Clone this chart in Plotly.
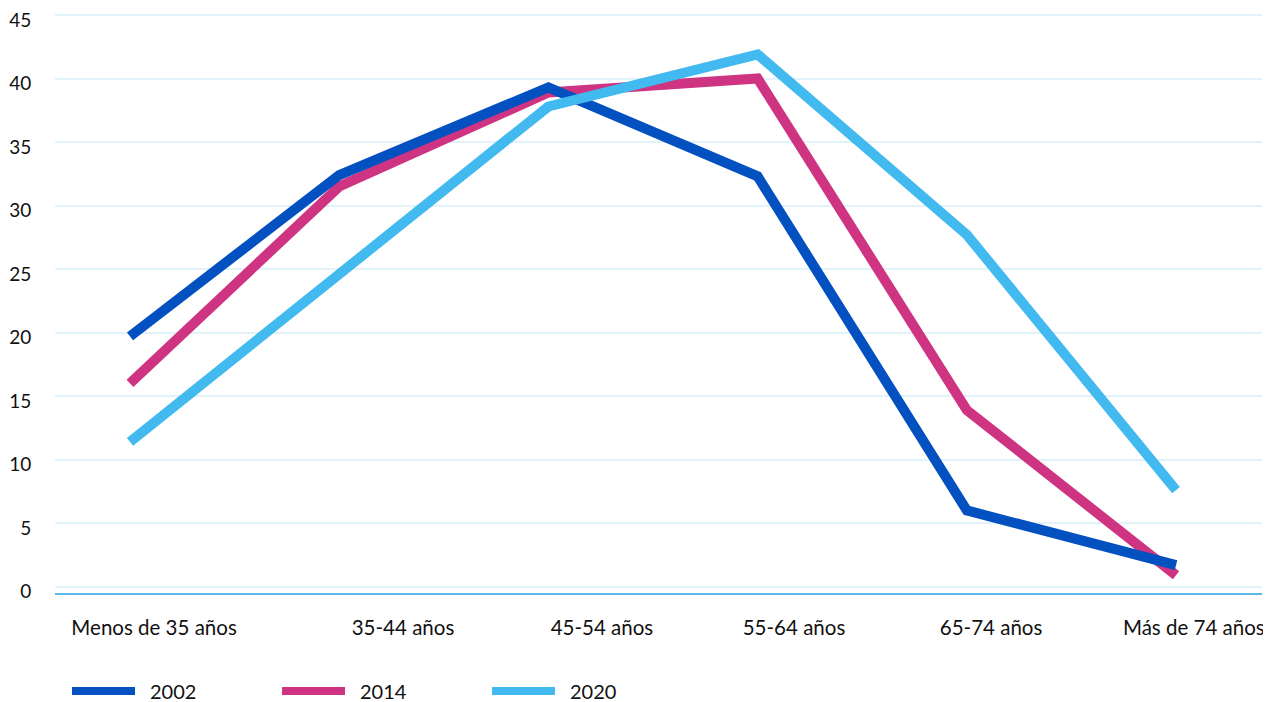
import plotly.graph_objects as go

categories = ["Menos de 35 años", "35-44 años", "45-54 años", "55-64 años", "65-74 años", "Más de 74 años"]
y2002 = [19.7, 32.4, 39.3, 32.3, 6.0, 1.7]
y2014 = [16.0, 31.5, 38.9, 40.0, 13.9, 0.9]
y2020 = [11.4, 24.5, 37.8, 41.9, 27.7, 7.6]
# where the category labels sit, relative to the point index (labels are shifted right in the original)
label_pos = [0.115, 1.305, 2.256, 3.174, 4.116, 5.085]

colors = {"2002": "#0350c0", "2014": "#cf3482", "2020": "#42baf0"}
series = {"2002": y2002, "2014": y2014, "2020": y2020}

# page body has an 8px margin, so the figure is 8px smaller and everything shifted
off = 8
W, H = 1271 - off, 702 - off
ml, mr, mt, mb = 55 - off, 9, 14 - off, 109
font = "Lato"

fig = go.Figure()
xs = list(range(len(categories)))
for name in ["2014", "2002", "2020"]:  # draw order as in original
    fig.add_trace(go.Scatter(x=xs, y=series[name], mode="lines", name=name,
                             line=dict(color=colors[name], width=10),
                             showlegend=False))

fig.update_xaxes(range=[-0.3585, 5.411], tickvals=label_pos, ticktext=categories,
                 showgrid=False, zeroline=False, showline=True, linecolor="#5cb8e6", linewidth=2,
                 ticks="outside", ticklen=0, ticklabelstandoff=15, automargin=False,
                 ticklabeloverflow="allow",
                 tickfont=dict(family=font, size=20.5, color="#111"))
fig.update_yaxes(range=[-0.5, 45.08], tickvals=list(range(0, 46, 5)),
                 showgrid=True, gridcolor="#e2f2fb", gridwidth=1.5, zeroline=False,
                 showline=False, ticks="outside", ticklen=0, ticklabelstandoff=19,
                 ticklabelshift=5, automargin=False,
                 ticklabeloverflow="allow",
                 tickfont=dict(family=font, size=19, color="#111"))

# custom legend at the bottom (long line swatches)
pw = W - ml - mr
ph = H - mt - mb
leg_y = -(691 - off - (H - mb)) / ph
for i, name in enumerate(["2002", "2014", "2020"]):
    x0 = 72 - off + i * 210
    fig.add_shape(type="line", xref="paper", yref="paper", layer="above", opacity=1,
                  x0=(x0 - ml) / pw, x1=(x0 + 63 - ml) / pw, y0=leg_y, y1=leg_y,
                  line=dict(color=colors[name], width=8))
    fig.add_annotation(xref="paper", yref="paper", x=(x0 + 76 - ml) / pw, y=leg_y,
                       text=name, showarrow=False, xanchor="left", yanchor="middle",
                       font=dict(family=font, size=20, color="#111"))

fig.update_layout(width=W, height=H, template="simple_white",
                  margin=dict(l=ml, r=mr, t=mt, b=mb, autoexpand=False),
                  plot_bgcolor="white", paper_bgcolor="white", showlegend=False)

fig.write_html("out.html")
